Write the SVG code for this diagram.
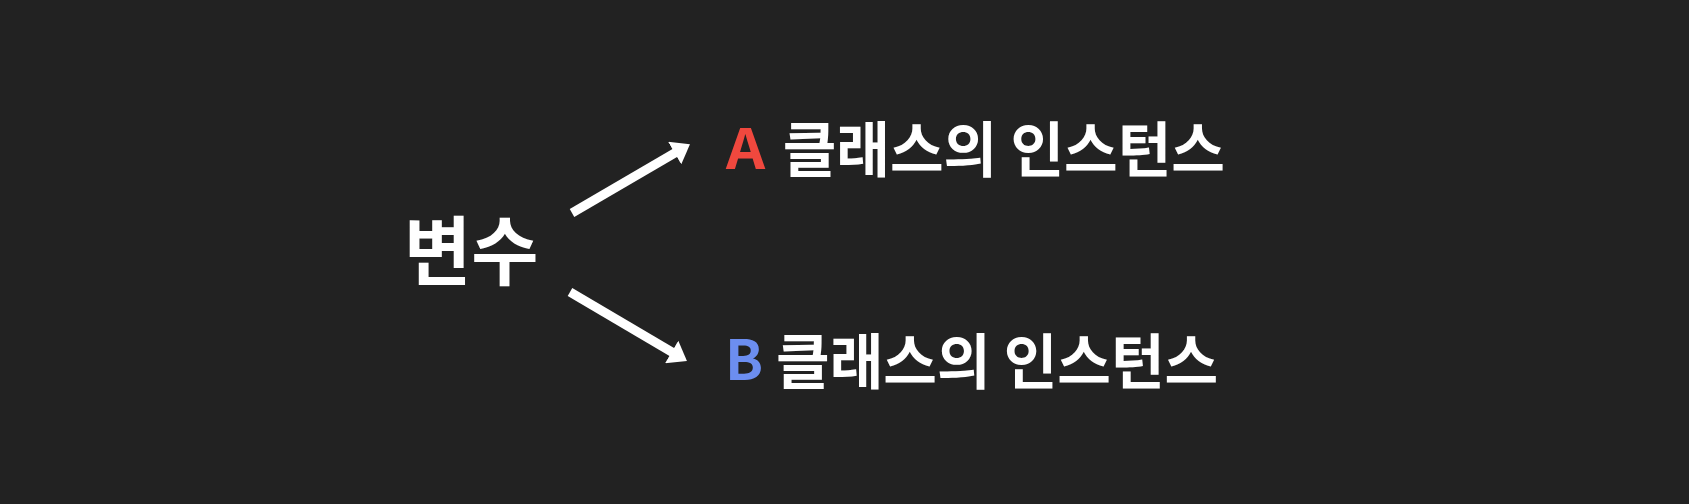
<svg xmlns="http://www.w3.org/2000/svg" width="1689" height="504" viewBox="0 0 1689 504">
<defs>
<style>
.t{font-family:"Noto Sans CJK KR","Noto Sans",sans-serif;font-weight:700;fill:#ffffff}
.conn{stroke:#ffffff;stroke-width:9;fill:none}
</style>
<marker id="ah" markerUnits="userSpaceOnUse" markerWidth="18" markerHeight="26" refX="2" refY="12.5" orient="auto" viewBox="0 0 17 25">
<path d="M0,0 L17,12.5 L0,25 z" fill="#ffffff"/>
</marker>
</defs>
<rect width="1689" height="504" fill="#222222"/>
<g id="connectors">
<line class="conn" x1="572" y1="213" x2="676.5" y2="152" marker-end="url(#ah)"/>
<line class="conn" x1="570" y1="292" x2="673.5" y2="353" marker-end="url(#ah)"/>
</g>
<g id="node-var">
<text class="t" font-size="73" transform="translate(404,279) scale(1,1.02)">변수</text>
</g>
<g id="node-a">
<text class="t" font-size="56" transform="translate(726,168.5) scale(1.09,1)" style="fill:#f0483e">A</text>
<text class="t" font-size="58.3" transform="translate(782.7,171.5) scale(1,1.038)">클래스의 인스턴스</text>
</g>
<g id="node-b">
<text class="t" x="725" y="380" font-size="56" style="fill:#6c8ef0">B</text>
<text class="t" font-size="58.3" transform="translate(776,383.5) scale(1,1.038)">클래스의 인스턴스</text>
</g>
</svg>
